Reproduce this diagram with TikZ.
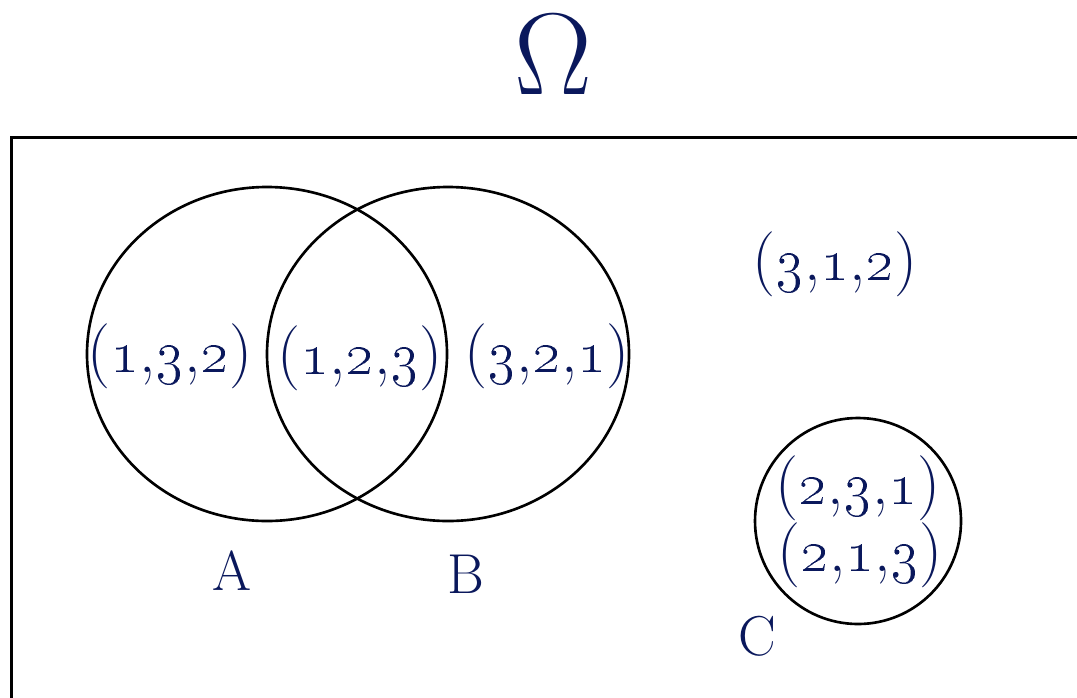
\documentclass[tikz,border=0pt]{standalone}
\definecolor{navy}{RGB}{10,24,92}
\newcommand{\tpl}[3]{(\oldstylenums{#1},\oldstylenums{#2},\oldstylenums{#3})}
\begin{document}
\begin{tikzpicture}[x=0.01cm,y=-0.01cm,
  setline/.style={line width=0.75pt,black},
  lbl/.style={text=navy,font=\fontsize{16}{19}\selectfont,inner sep=0pt},
  tup/.style={text=navy,font=\fontsize{18.5}{22}\selectfont,inner sep=0pt}]
\useasboundingbox (0,0) rectangle (1077,697);
\begin{scope}
\clip (0,0) rectangle (1077,697);
\draw[line width=0.7pt] (11.5,137.5) rectangle (1100,720);
\end{scope}
\node[text=navy,font=\fontsize{24.88}{30}\selectfont,inner sep=0pt,scale=1.33] (omega) at (553,55) {$\Omega$};
\draw[setline] (267,354) ellipse [x radius=180,y radius=167];
\draw[setline] (448,354) ellipse [x radius=181,y radius=167];
\draw[setline] (858,521) circle [radius=103];
\node[tup] (t132) at (170,356) {\tpl132};
\node[tup] (t123) at (360,358) {\tpl123};
\node[tup] (t321) at (547,356) {\tpl321};
\node[tup] (t312) at (835,264) {\tpl312};
\node[tup] (t231) at (858,488) {\tpl231};
\node[tup] (t213) at (860,555) {\tpl213};
\node[lbl] (A) at (232,571) {A};
\node[lbl] (B) at (466,574) {B};
\node[lbl] (C) at (757,636) {C};
\end{tikzpicture}
\end{document}
